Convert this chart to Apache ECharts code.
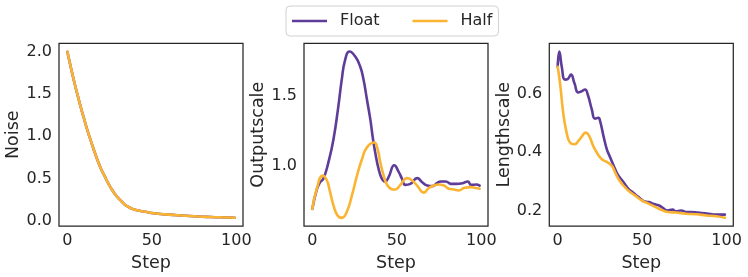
<!DOCTYPE html>
<html>
<head>
<meta charset="utf-8">
<script src="https://cdn.jsdelivr.net/npm/echarts@6/dist/echarts.min.js"></script>
<style>
html,body{margin:0;padding:0;background:#fff;}
#c{width:748px;height:277px;}
</style>
</head>
<body>
<div id="c"></div>
<script>
// ---- Data ----
const seriesNames = ['Float', 'Half'];
const xTicks = [0, 50, 100];

const noiseTicks = [0.0, 0.5, 1.0, 1.5, 2.0];
const noiseSteps = [0,2,4,6,8,10,12,14,16,18,20,22,24,26,28,30,32,34,36,38,40,45,50,55,60,65,70,75,80,85,90,95,99];
const noiseFloat = [2.0,1.82,1.65,1.49,1.34,1.20,1.06,0.94,0.82,0.71,0.61,0.53,0.45,0.38,0.32,0.27,0.23,0.19,0.165,0.145,0.13,0.108,0.092,0.08,0.072,0.065,0.058,0.052,0.047,0.043,0.04,0.037,0.035];
const noiseHalf  = [2.0,1.82,1.65,1.49,1.34,1.20,1.06,0.94,0.82,0.71,0.61,0.53,0.45,0.38,0.32,0.27,0.23,0.19,0.165,0.145,0.13,0.108,0.092,0.08,0.072,0.065,0.058,0.052,0.047,0.043,0.04,0.037,0.035];

const outTicks = [1.0, 1.5];
const outFloatSteps = [0,2.6,4.6,6.5,9.5,12.5,15.4,17.4,19.4,22,25.4,28.3,30.3,32.3,34.3,35.9,37.2,39.2,41.2,43.2,45.1,48.5,51,53,55,58,62,65,68,71,74,76,79,82,85,89,92,94,97,99];
const outFloatVals  = [0.693,0.83,0.884,0.908,1.026,1.191,1.428,1.617,1.759,1.818,1.782,1.711,1.617,1.475,1.333,1.191,1.097,0.979,0.908,0.889,0.920,1.005,0.96,0.91,0.865,0.872,0.913,0.884,0.860,0.856,0.879,0.889,0.889,0.872,0.872,0.877,0.889,0.865,0.867,0.860];
const outHalfSteps = [0,2.6,6.2,8.6,10.5,12.5,14.8,17.4,20.4,23.4,26.4,29.4,32.3,36.6,38.6,40.2,42.2,44.5,47.7,49.1,52.1,56.1,59,62,65.9,68.9,71.9,74.8,77.8,80.8,83.7,86.7,89.7,93.6,96.6,99];
const outHalfVals  = [0.693,0.837,0.931,0.896,0.813,0.718,0.648,0.629,0.672,0.789,0.931,1.05,1.133,1.168,1.121,1.026,0.931,0.860,0.832,0.832,0.865,0.913,0.896,0.860,0.809,0.842,0.860,0.867,0.860,0.837,0.832,0.825,0.842,0.849,0.842,0.837];

const lenTicks = [0.2, 0.4, 0.6];
const lenFloatSteps = [0,1,2.4,4.3,5.9,7.9,9.9,12.2,14.2,16.2,17.8,20.2,22.1,24.1,25.1,27.1,29.1,31.1,34,36,39,41.9,44.9,47.9,51,54,57,60,62,65,68,70,73,76,79,83,88,94,99];
const lenFloatVals  = [0.693,0.745,0.694,0.649,0.651,0.666,0.637,0.605,0.609,0.615,0.598,0.547,0.515,0.518,0.507,0.456,0.41,0.382,0.342,0.319,0.297,0.274,0.26,0.246,0.232,0.229,0.222,0.217,0.21,0.2,0.203,0.197,0.2,0.195,0.195,0.193,0.19,0.186,0.186];
const lenHalfSteps = [0,1.4,3.3,5.3,7.3,9.9,12.2,14.6,16.6,18.6,21.1,23.8,26.5,29.1,32.1,34,36,39,41.9,45.9,50,54,60,65,70,76,82,88,94,99];
const lenHalfVals  = [0.693,0.637,0.535,0.467,0.433,0.427,0.438,0.456,0.467,0.456,0.421,0.393,0.374,0.367,0.353,0.331,0.308,0.285,0.268,0.251,0.234,0.223,0.206,0.195,0.193,0.189,0.187,0.183,0.18,0.175];

// ---- Styling / layout ----
const FONT = 'DejaVu Sans';
const TXT = '#262626';
const colors = ['#5e3c99', '#fbb432'];
const panels = [
  {left: 59,    name: 'Noise',       ticks: noiseTicks, min: -0.064, max: 2.101,
   data: [[noiseSteps, noiseFloat], [noiseSteps, noiseHalf]]},
  {left: 304,   name: 'Outputscale', ticks: outTicks,   min: 0.570,  max: 1.877,
   data: [[outFloatSteps, outFloatVals], [outHalfSteps, outHalfVals]]},
  {left: 549.3, name: 'Lengthscale', ticks: lenTicks,   min: 0.1465, max: 0.7735,
   data: [[lenFloatSteps, lenFloatVals], [lenHalfSteps, lenHalfVals]]}
];

const grid = [], xAxis = [], yAxis = [], series = [];
panels.forEach((p, i) => {
  grid.push({left: p.left, top: 43.3, width: 184, height: 184, show: true,
    borderColor: TXT, borderWidth: 1.25, backgroundColor: 'transparent', containLabel: false});
  xAxis.push({type: 'value', gridIndex: i, min: -4.95, max: 103.95,
    name: 'Step', nameLocation: 'middle', nameGap: 24,
    nameTextStyle: {fontFamily: FONT, fontSize: 17.5, color: TXT},
    axisLine: {show: false}, axisTick: {show: false}, splitLine: {show: false},
    axisLabel: {customValues: xTicks, fontFamily: FONT, fontSize: 16, color: TXT, margin: 7,
      formatter: v => String(Math.round(v))}});
  yAxis.push({type: 'value', gridIndex: i, min: p.min, max: p.max,
    name: p.name, nameLocation: 'middle', nameGap: 36, nameRotate: 90,
    nameTextStyle: {fontFamily: FONT, fontSize: 17.5, color: TXT},
    axisLine: {show: false}, axisTick: {show: false}, splitLine: {show: false},
    axisLabel: {customValues: p.ticks, fontFamily: FONT, fontSize: 16, color: TXT, margin: 7,
      formatter: v => v.toFixed(1)}});
  p.data.forEach((d, k) => {
    series.push({type: 'line', name: seriesNames[k], xAxisIndex: i, yAxisIndex: i,
      data: d[0].map((s, j) => [s, d[1][j]]),
      smooth: 0.5, symbol: 'none', showSymbol: false,
      lineStyle: {color: colors[k], width: 2.6, cap: 'round', join: 'round'}, itemStyle: {color: colors[k]},
      animation: false, silent: true});
  });
});

const chart = echarts.init(document.getElementById('c'), null, {renderer: 'canvas'});
chart.setOption({
  animation: false,
  color: colors,
  legend: {
    data: seriesNames, left: 286, top: 6,
    padding: [7, 6, 7, 6], itemWidth: 35, itemHeight: 14, itemGap: 33,
    borderColor: '#d0d0d0', borderWidth: 1, borderRadius: 4,
    icon: 'path://M0,5.7 L35,5.7 L35,8.3 L0,8.3 Z',
    textStyle: {fontFamily: FONT, fontSize: 16, color: TXT, padding: [0, 0, 0, 8]}
  },
  grid, xAxis, yAxis, series
});
</script>
</body>
</html>
